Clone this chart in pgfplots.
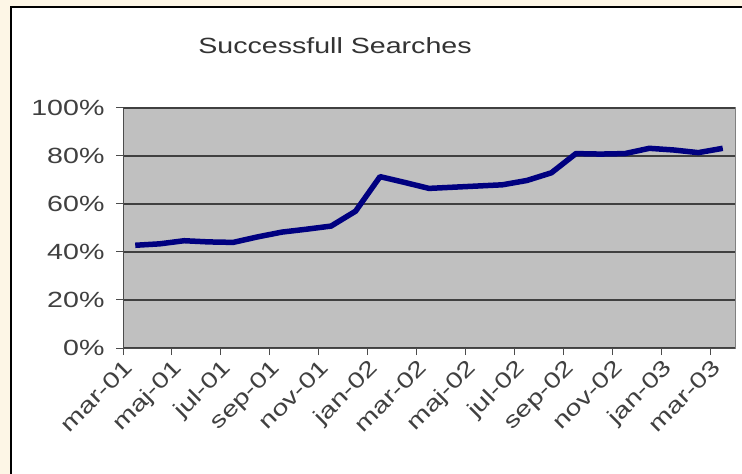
\documentclass[border=0pt]{standalone}
\usepackage{fontspec}
\setmainfont[FakeStretch=1.3]{Liberation Sans}
\usepackage{pgfplots}
\pgfplotsset{compat=1.18}
\definecolor{cream}{HTML}{FDF6E6}
\definecolor{plotgray}{HTML}{C0C0C0}
\definecolor{navyline}{HTML}{000080}
\begin{document}
\begin{tikzpicture}[x=1pt,y=1pt]
  \useasboundingbox (0,0) rectangle (742,474);
  % frame round the chart
  \fill[cream] (0,0) rectangle (742,474);
  \fill[white] (11,0) rectangle (742,467);
  \draw[black, line width=2pt] (11,0) -- (11,467) -- (742,467);
  \node[font=\fontsize{22}{22}\selectfont, text=black!80] at (335,428) {Successfull Searches};
\begin{axis}[
    at={(123pt,126pt)}, anchor=south west,
    width=612pt, height=240pt, scale only axis,
    xmin=0, xmax=25, ymin=0, ymax=100,
    axis x line*=bottom, axis y line*=left,
    axis line style={black!70, line width=1pt, -},
    axis background/.style={fill=plotgray, draw=gray, line width=1pt},
    ymajorgrids,
    major grid style={black!75, line width=1.2pt},
    xtick={0,2,...,24},
    xticklabels={mar-01,maj-01,jul-01,sep-01,nov-01,jan-02,mar-02,maj-02,jul-02,sep-02,nov-02,jan-03,mar-03},
    ytick={0,20,...,100},
    yticklabel={\pgfmathprintnumber{\tick}\%},
    /pgf/number format/assume math mode=true,
    tick align=outside,
    major tick length=7pt,
    tick style={black!70, line width=1pt},
    tick label style={font=\fontsize{22}{22}\selectfont, text=black!75},
    yticklabel style={xshift=-8pt},
    xticklabel style={rotate=45, anchor=north east, inner sep=2pt},
]
  % monthly share of successful searches, mar-01 .. mar-03
  \addplot[navyline, line width=5.5pt, line join=round] table {
     x     y
   0.5  42.8
   1.5  43.4
   2.5  44.7
   3.5  44.2
   4.5  44.0
   5.5  46.3
   6.5  48.3
   7.5  49.5
   8.5  50.8
   9.5  57.0
  10.5  71.4
  11.5  69.0
  12.5  66.5
  13.5  67.0
  14.5  67.5
  15.5  68.0
  16.5  69.8
  17.5  73.0
  18.5  81.0
  19.5  80.8
  20.5  81.0
  21.5  83.2
  22.5  82.5
  23.5  81.4
  24.5  83.2
  };
\end{axis}
\end{tikzpicture}
\end{document}
